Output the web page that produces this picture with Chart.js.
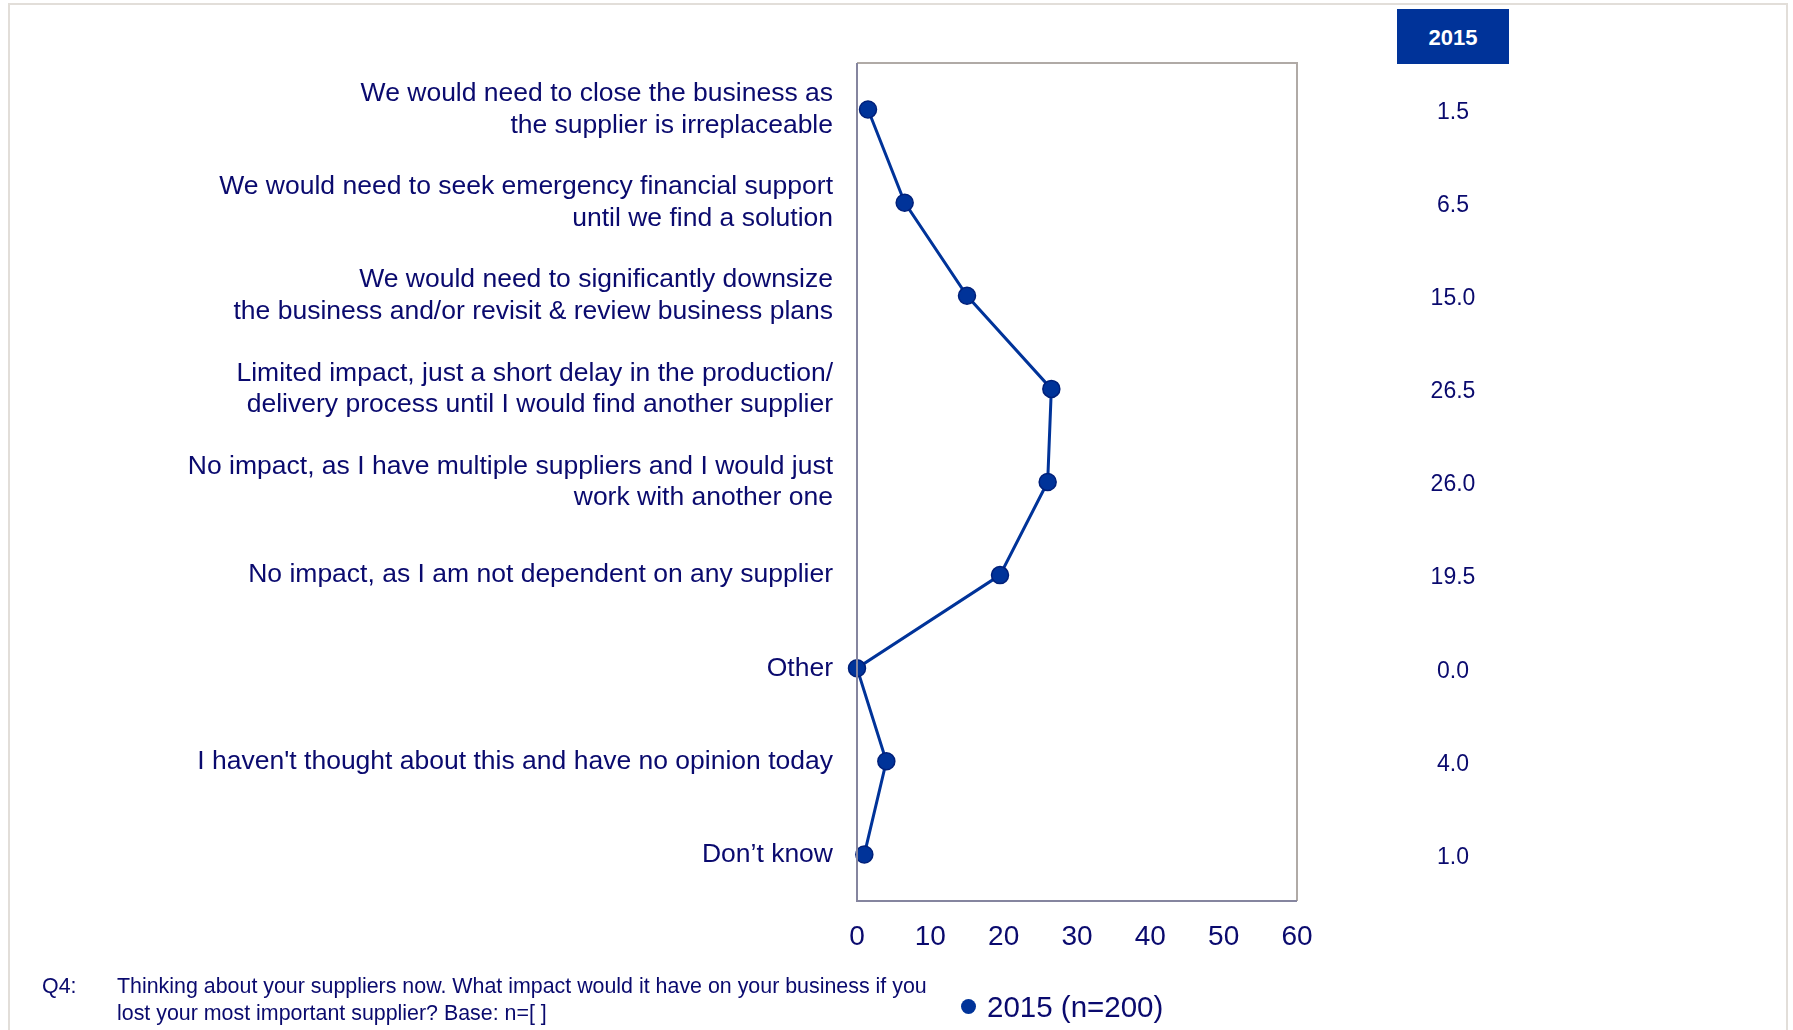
<!DOCTYPE html>
<html>
<head>
<meta charset="utf-8">
<script src="https://cdn.jsdelivr.net/npm/chart.js@4.4.1/dist/chart.umd.min.js"></script>
<style>
  html, body { margin: 0; padding: 0; background: #fff; }
  body { width: 1793px; height: 1030px; position: relative; overflow: hidden; font-family: "Liberation Sans", Arial, sans-serif; color: #0a0a6e; }
  #frame { position: absolute; left: 8px; top: 3px; width: 1780px; height: 1100px; border: 2px solid #e2ded9; box-sizing: border-box; }
  #wrap { position: absolute; left: 0; top: 0; width: 1793px; height: 1030px; }
  #header { position: absolute; left: 1397px; top: 9px; width: 112px; height: 55px; background: #003399; color: #fff; font-weight: bold; font-size: 22px; line-height: 58px; text-align: center; }
  #note { position: absolute; left: 42px; top: 973px; font-size: 21.4px; line-height: 27px; }
  #note .q { position: absolute; left: 0; top: 0; }
  #note .t { position: absolute; left: 75px; top: 0; width: 1000px; }
  #legend { position: absolute; left: 961px; top: 989px; font-size: 29.5px; line-height: 36px; white-space: nowrap; }
  #legend .dot { display: inline-block; width: 15px; height: 15px; border-radius: 50%; background: #003399; margin-right: 11px; vertical-align: 3px; }
</style>
</head>
<body>
<div id="frame"></div>
<div id="wrap"><canvas id="chart" width="1793" height="1030"></canvas></div>
<div id="header">2015</div>
<div id="note"><span class="q">Q4:</span><span class="t">Thinking about your suppliers now. What impact would it have on your business if you<br>lost your most important supplier? Base: n=[ ]</span></div>
<div id="legend"><span class="dot"></span>2015 (n=200)</div>
<script>
// Answer options (multi-line labels)
const categories = [
  ["We would need to close the business as", "the supplier is irreplaceable"],
  ["We would need to seek emergency financial support", "until we find a solution"],
  ["We would need to significantly downsize", "the business and/or revisit & review business plans"],
  ["Limited impact, just a short delay in the production/", "delivery process until I would find another supplier"],
  ["No impact, as I have multiple suppliers and I would just", "work with another one"],
  ["No impact, as I am not dependent on any supplier"],
  ["Other"],
  ["I haven't thought about this and have no opinion today"],
  ["Don\u2019t know"]
];

// 2015 (n=200) percentages
const values2015 = [1.5, 6.5, 15.0, 26.5, 26.0, 19.5, 0.0, 4.0, 1.0];

// x axis ticks
const xTicks = [0, 10, 20, 30, 40, 50, 60];

const TEXT = "#0a0a6e";
const BLUE = "#003399";

// Box round the plot, and value column on the right
const boxAndValues = {
  id: "boxAndValues",
  afterDraw(chart) {
    const { ctx, chartArea: a, scales } = chart;
    ctx.save();
    ctx.lineWidth = 2;
    ctx.strokeStyle = "#b0aaa6";
    ctx.beginPath();
    ctx.moveTo(a.left, a.top);
    ctx.lineTo(a.right, a.top);
    ctx.lineTo(a.right, a.bottom);
    ctx.stroke();
    ctx.strokeStyle = "#85859f";
    ctx.beginPath();
    ctx.moveTo(a.right, a.bottom);
    ctx.lineTo(a.left, a.bottom);
    ctx.lineTo(a.left, a.top);
    ctx.stroke();

    ctx.fillStyle = TEXT;
    ctx.font = "23px 'Liberation Sans', Arial, sans-serif";
    ctx.textAlign = "center";
    ctx.textBaseline = "middle";
    values2015.forEach((v, i) => {
      ctx.fillText(v.toFixed(1), 1453, scales.y.getPixelForValue(i) + 3);
    });
    ctx.restore();
  }
};

new Chart(document.getElementById("chart"), {
  type: "line",
  data: {
    labels: categories,
    datasets: [{
      label: "2015 (n=200)",
      data: values2015,
      borderColor: BLUE,
      borderWidth: 3,
      backgroundColor: BLUE,
      pointBackgroundColor: BLUE,
      pointBorderColor: "#00207a",
      pointBorderWidth: 1.5,
      pointRadius: 8.5,
      tension: 0,
      clip: false
    }]
  },
  options: {
    indexAxis: "y",
    responsive: false,
    animation: false,
    layout: { padding: { left: 0, right: 496, top: 63, bottom: 69 } },
    plugins: { legend: { display: false }, tooltip: { enabled: false } },
    scales: {
      x: {
        type: "linear",
        min: 0,
        max: 60,
        afterBuildTicks: (s) => { s.ticks = xTicks.map(v => ({ value: v })); },
        afterFit: (s) => { s.height = 60; },
        grid: { display: false, drawTicks: false },
        border: { display: false },
        ticks: { padding: 19, color: TEXT, font: { family: "'Liberation Sans', Arial, sans-serif", size: 28 } }
      },
      y: {
        type: "category",
        offset: true,
        afterFit: (s) => { s.width = 857; },
        grid: { display: false, drawTicks: false },
        border: { display: false },
        ticks: { padding: 24, color: TEXT, font: { family: "'Liberation Sans', Arial, sans-serif", size: 26.5, lineHeight: 1.18 } }
      }
    }
  },
  plugins: [boxAndValues]
});
</script>
</body>
</html>
